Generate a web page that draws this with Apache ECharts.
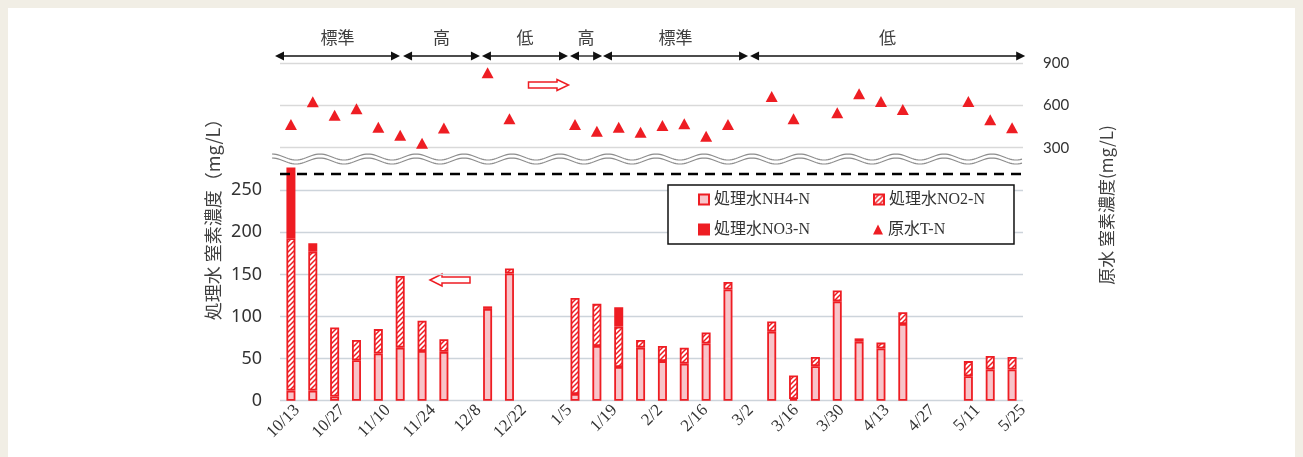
<!DOCTYPE html>
<html>
<head>
<meta charset="utf-8">
<script src="https://cdn.jsdelivr.net/npm/echarts@6/dist/echarts.min.js"></script>
<style>
  html, body { margin: 0; padding: 0; background: #f1eee5; }
  #card { position: absolute; left: 8px; top: 8px; width: 1287px; height: 449px; background: #fff; }
  #chart { position: absolute; left: 0; top: 0; width: 1303px; height: 457px; }
</style>
</head>
<body>
<div id="card"></div>
<div id="chart"></div>
<script>
// Sampling runs (one slot per run along the bottom axis)
const samples = ['1','2','3','4','5','6','7','8','9','10','11','12','13','14','15','16','17',
                 '18','19','20','21','22','23','24','25','26','27','28','29','30','31','32','33','34'];

// Date ticks every 14 days along the bottom
const dateLabels = ['10/13','10/27','11/10','11/24','12/8','12/22','1/5','1/19','2/2',
                    '2/16','3/2','3/16','3/30','4/13','4/27','5/11','5/25'];

// Treated water nitrogen (mg/L)
const nh4 = [12, 12, 5, 48, 56, 63, 59, 58, null, 109, 151, null, null, 8, 65, 40, 63,
             47, 44, 68, 132, null, 82, 2, 41, 118, 70, 62, 91, null, null, 29, 37, 37];
const no2 = [181, 165, 82, 24, 29, 85, 36, 15, null, 3, 6, null, null, 114, 50, 48, 9,
             18, 19, 13, 9, null, 12, 28, 11, 13, 4, 7, 14, null, null, 18, 16, 15];
const no3 = [84, 10, null, null, null, null, null, null, null, null, null, null, null, null, null, 23, null,
             null, null, null, null, null, null, null, null, null, null, null, null, null, null, null, null, null];

// Raw water total nitrogen (mg/L)
const rawTN = [465, 627, 530, 577, 446, 388, 331, 440, null, 833, 506, null, null, 465, 417, 446, 410,
               458, 470, 381, 465, null, 664, 506, null, 548, 683, 628, 572, null, null, 628, 499, 441];

// Loading phases (in run-slot units)
const phaseNames = ['標準', '高', '低', '高', '標準', '低'];
const phaseStart = [-0.73, 5.13, 8.74, 12.77, 14.28, 21.01];
const phaseEnd   = [4.99, 8.65, 12.68, 14.24, 20.92, 33.6];

const RED = '#ee1d23';
const PINK = '#f8c4c9';
const TEXT = '#404040';
const CJK = '"Noto Sans CJK JP", "Noto Sans", sans-serif';
const SERIF = '"Liberation Serif", "Noto Sans CJK JP", serif';

// diagonal hatch for the NO2 segments
const hatch = document.createElement('canvas');
hatch.width = 5; hatch.height = 5;
const hc = hatch.getContext('2d');
hc.fillStyle = '#fff'; hc.fillRect(0, 0, 5, 5);
hc.strokeStyle = RED; hc.lineWidth = 1.5;
hc.beginPath();
hc.moveTo(0, 5); hc.lineTo(5, 0);
hc.moveTo(-1, 1); hc.lineTo(1, -1);
hc.moveTo(4, 6); hc.lineTo(6, 4);
hc.stroke();
const hatchFill = { image: hatch, repeat: 'repeat' };

// double wavy break line between the two panels
function wave(yc) {
  const pts = [];
  for (let x = 272; x <= 1023; x += 2) {
    pts.push([x, yc - 3 * Math.cos((x - 272) / 48 * 2 * Math.PI)]);
  }
  return pts;
}

const chart = echarts.init(document.getElementById('chart'), null, { renderer: 'canvas' });

const phaseData = phaseStart.map((s, i) => [s, phaseEnd[i], i]);

const option = {
  animation: false,
  backgroundColor: 'transparent',
  grid: [
    { left: 280, right: 280, top: 63.3, height: 84.4 },
    { left: 280, right: 280, top: 164.9, bottom: 56.3 },
    { left: 280, right: 280, top: 36, height: 40 }
  ],
  xAxis: [
    { gridIndex: 0, type: 'category', data: samples, show: false },
    { gridIndex: 1, type: 'category', data: samples, position: 'top',
      axisLine: { show: false }, axisTick: { show: false }, axisLabel: { show: false } },
    { gridIndex: 1, type: 'value', position: 'bottom', min: -5.25, max: 224,
      axisLine: { show: false, lineStyle: { color: '#333' } }, axisTick: { show: false }, splitLine: { show: false },
      axisLabel: {
        customValues: dateLabels.map((_, i) => i * 14),
        formatter: v => '{d|' + dateLabels[Math.round(v / 14)] + '}',
        rich: { d: { fontFamily: SERIF, fontSize: 17, color: '#333' } },
        rotate: 45, margin: 7, showMinLabel: true, showMaxLabel: true,
        fontFamily: SERIF, fontSize: 17, color: '#333'
      } },
    { gridIndex: 2, type: 'value', min: -0.5, max: 33.5, show: false }
  ],
  yAxis: [
    { gridIndex: 0, type: 'value', position: 'right', min: 300, max: 900, interval: 300,
      axisLine: { show: false }, axisTick: { show: false },
      splitLine: { lineStyle: { color: '#d9d9d9', width: 1.3 } },
      axisLabel: { margin: 20, fontSize: 15, fontFamily: 'Lato', color: '#333' } },
    { gridIndex: 1, type: 'value', min: 0, max: 280, interval: 50,
      axisLine: { show: false }, axisTick: { show: false },
      splitLine: { showMaxLine: false,
        lineStyle: { color: ['#cdd4db', '#cdd4db', '#cdd4db', '#cdd4db', '#cdd4db', '#cdd4db', 'rgba(0,0,0,0)'], width: 1.3 } },
      axisLabel: { margin: 18, fontSize: 18, fontFamily: '"Noto Sans", sans-serif', color: '#333',
        showMaxLabel: false, formatter: v => (v <= 250 ? String(v) : '') } },
    { gridIndex: 2, type: 'value', min: -1, max: 1, show: false }
  ],
  legend: {
    left: 668, top: 185, width: 300, orient: 'horizontal',
    padding: [4.5, 29, 4.5, 30], itemGap: 10, itemWidth: 10, itemHeight: 10,
    borderColor: '#111', borderWidth: 1.5, backgroundColor: '#fff',
    selectedMode: false,
    textStyle: { fontFamily: SERIF, fontSize: 16, color: '#333', lineHeight: 20 },
    data: [
      { name: '処理水NH4-N', icon: 'rect', textStyle: { width: 149 } },
      { name: '処理水NO2-N', icon: 'rect', textStyle: { width: 95 } },
      { name: '処理水NO3-N', icon: 'rect', textStyle: { width: 149 } },
      { name: '原水T-N', icon: 'triangle', textStyle: { width: 95 } }
    ]
  },
  series: [
    { name: '処理水NH4-N', type: 'bar', xAxisIndex: 1, yAxisIndex: 1, stack: 'n', barWidth: 9,
      data: nh4, itemStyle: { color: PINK, borderColor: RED, borderWidth: 1.8 },
      markLine: { silent: true, symbol: 'none', label: { show: false },
        lineStyle: { color: '#000', type: [10, 7], width: 2.4 },
        data: [{ yAxis: 270 }] } },
    { name: '処理水NO2-N', type: 'bar', xAxisIndex: 1, yAxisIndex: 1, stack: 'n', barWidth: 9,
      data: no2, itemStyle: { color: hatchFill, borderColor: RED, borderWidth: 1.8 } },
    { name: '処理水NO3-N', type: 'bar', xAxisIndex: 1, yAxisIndex: 1, stack: 'n', barWidth: 9,
      data: no3, itemStyle: { color: RED, borderColor: RED, borderWidth: 1.8 } },
    { name: '原水T-N', type: 'scatter', xAxisIndex: 0, yAxisIndex: 0,
      symbol: 'triangle', symbolSize: [12, 11], data: rawTN, itemStyle: { color: RED, opacity: 1 } },
    { name: 'phase', type: 'custom', xAxisIndex: 3, yAxisIndex: 2, silent: true,
      data: phaseData, encode: { x: [0, 1] },
      renderItem: (params, api) => {
        const a = api.coord([api.value(0), 0]);
        const b = api.coord([api.value(1), 0]);
        const y = a[1];
        const w = 9, h = 9;
        return {
          type: 'group',
          children: [
            { type: 'line', shape: { x1: a[0] + 2, y1: y, x2: b[0] - 2, y2: y },
              style: { stroke: '#111', lineWidth: 1.3 } },
            { type: 'polygon', shape: { points: [[a[0], y], [a[0] + w, y - h / 2], [a[0] + w, y + h / 2]] },
              style: { fill: '#111' } },
            { type: 'polygon', shape: { points: [[b[0], y], [b[0] - w, y - h / 2], [b[0] - w, y + h / 2]] },
              style: { fill: '#111' } },
            { type: 'text', x: (a[0] + b[0]) / 2, y: y - 18,
              style: { text: phaseNames[api.value(2)], textAlign: 'center', textVerticalAlign: 'middle',
                       font: '17px ' + CJK, fill: TEXT } }
          ]
        };
      } }
  ],
  graphic: [
    { type: 'polyline', silent: true, shape: { points: wave(157) }, style: { stroke: '#8c8c8c', lineWidth: 1.2, fill: null } },
    { type: 'polyline', silent: true, shape: { points: wave(161) }, style: { stroke: '#8c8c8c', lineWidth: 1.2, fill: null } },
    { type: 'polygon', silent: true,
      shape: { points: [[528.5, 82], [557, 82], [557, 79.5], [568.5, 85], [557, 90.5], [557, 88], [528.5, 88]] },
      style: { fill: '#fff', stroke: RED, lineWidth: 1.5 } },
    { type: 'polygon', silent: true,
      shape: { points: [[430, 280], [442, 274], [442, 277], [470, 277], [470, 283], [442, 283], [442, 286]] },
      style: { fill: '#fff', stroke: RED, lineWidth: 1.5 } },
    { type: 'text', x: 213, y: 215, rotation: Math.PI / 2,
      style: { text: '処理水 窒素濃度（mg/L）', font: '18px ' + CJK, fill: TEXT,
               textAlign: 'center', textVerticalAlign: 'middle' } },
    { type: 'text', x: 1107, y: 205, rotation: Math.PI / 2,
      style: { text: '原水 窒素濃度(mg/L)', font: '17px ' + CJK, fill: TEXT,
               textAlign: 'center', textVerticalAlign: 'middle' } }
  ]
};

chart.setOption(option);
</script>
</body>
</html>
